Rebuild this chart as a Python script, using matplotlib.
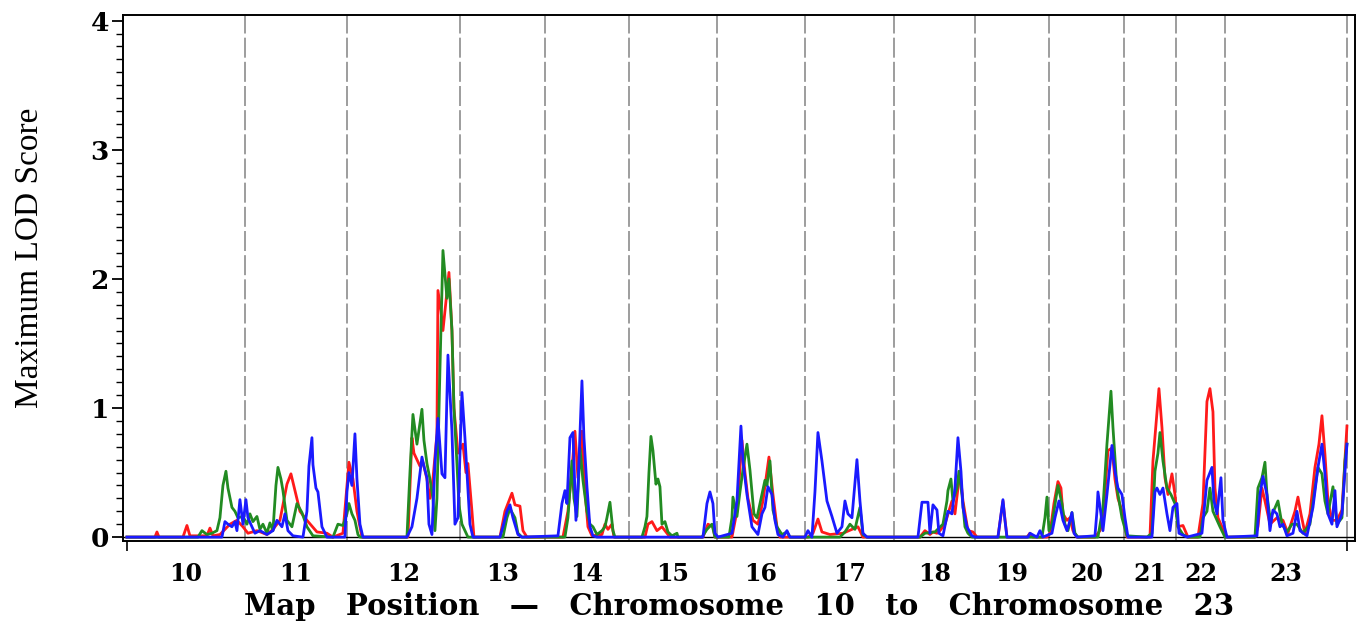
import matplotlib
matplotlib.use("Agg")
import matplotlib.pyplot as plt
import numpy as np

# chromosome labels and boundaries (map position, cM along the concatenated map)
chroms = ["10", "11", "12", "13", "14", "15", "16", "17", "18", "19", "20", "21", "22", "23"]
bounds = [0, 118, 220, 333, 418, 502, 590, 678, 767, 848, 922, 997, 1049, 1098, 1220]

# (position, max LOD)
red_pts = [
    (0, 0), (28, 0), (30, 0.04), (32, 0), (56, 0), (60, 0.09), (63, 0.01), (80, 0.01), (83, 0.07),
    (86, 0.01), (93, 0.02), (103, 0.1), (110, 0.13), (116, 0.08), (121, 0.03), (130, 0.05),
    (140, 0.02), (146, 0.06), (153, 0.13), (160, 0.41), (164, 0.49), (168, 0.36), (173, 0.2),
    (180, 0.13), (190, 0.04), (200, 0.03), (206, 0), (216, 0.03), (220, 0.4), (222, 0.58),
    (226, 0.45), (230, 0.2), (235, 0),
    (281, 0), (285, 0.77), (287, 0.65), (290, 0.6), (293, 0.55), (296, 0.58), (300, 0.45),
    (303, 0.3), (306, 0.45), (310, 0.8), (311, 1.91), (314, 1.75), (316, 1.6), (320, 1.9),
    (322, 2.05), (325, 1.6), (327, 1.0), (331, 0.65), (336, 0.72), (339, 0.5), (341, 0.57),
    (345, 0.2), (347, 0),
    (373, 0), (378, 0.2), (385, 0.34), (388, 0.25), (393, 0.24), (396, 0.05), (400, 0),
    (436, 0), (441, 0.2), (445, 0.52), (448, 0.82), (451, 0.46), (455, 0.82), (458, 0.36),
    (461, 0.08), (465, 0.01), (475, 0.02), (478, 0.1), (481, 0.06), (485, 0.1), (487, 0),
    (518, 0), (521, 0.1), (525, 0.12), (530, 0.05), (535, 0.08), (540, 0.03), (543, 0),
    (576, 0), (581, 0.1), (586, 0.08), (588, 0),
    (605, 0), (610, 0.2), (615, 0.75), (618, 0.5), (621, 0.3), (626, 0.13), (631, 0.1),
    (636, 0.28), (642, 0.62), (646, 0.33), (650, 0.08), (653, 0),
    (681, 0), (686, 0.03), (691, 0.14), (695, 0.04), (703, 0.02), (716, 0.03), (731, 0.08), (736, 0),
    (793, 0), (798, 0.05), (803, 0.02), (806, 0.04), (810, 0.03), (813, 0.05), (818, 0.1),
    (825, 0.28), (828, 0.18), (833, 0.51), (836, 0.28), (841, 0.05), (846, 0.04), (850, 0),
    (871, 0), (876, 0.28), (880, 0), (900, 0), (903, 0.03), (906, 0), (920, 0),
    (923, 0.03), (927, 0.26), (931, 0.43), (934, 0.38), (936, 0.18), (940, 0.13), (943, 0.15),
    (946, 0.05), (950, 0), (968, 0), (973, 0.05), (976, 0.13), (981, 0.67), (985, 0.69),
    (988, 0.45), (991, 0.3), (996, 0.18), (1000, 0),
    (1023, 0), (1026, 0.59), (1030, 0.97), (1032, 1.15), (1035, 0.85), (1038, 0.46), (1041, 0.33),
    (1045, 0.49), (1048, 0.33), (1051, 0.08), (1056, 0.09), (1061, 0),
    (1071, 0), (1076, 0.26), (1080, 1.05), (1083, 1.15), (1086, 0.97), (1088, 0.38), (1091, 0.15),
    (1095, 0.08), (1100, 0),
    (1128, 0), (1131, 0.08), (1135, 0.38), (1138, 0.28), (1143, 0.1), (1150, 0.15), (1156, 0.13),
    (1161, 0.03), (1168, 0.2), (1171, 0.31), (1174, 0.18), (1178, 0.03), (1183, 0.18),
    (1188, 0.54), (1192, 0.72), (1195, 0.94), (1198, 0.64), (1201, 0.28), (1205, 0.13),
    (1210, 0.13), (1215, 0.21), (1220, 0.86),
]

green_pts = [
    (0, 0), (71, 0), (75, 0.05), (80, 0.02), (85, 0.03), (90, 0.05), (93, 0.15), (96, 0.4),
    (99, 0.51), (101, 0.38), (105, 0.23), (108, 0.2), (111, 0.15), (116, 0.16), (120, 0.1),
    (123, 0.18), (126, 0.12), (130, 0.16), (133, 0.06), (136, 0.1), (140, 0.03), (143, 0.11),
    (146, 0.05), (149, 0.4), (151, 0.54), (154, 0.45), (156, 0.36), (160, 0.13), (165, 0.08),
    (170, 0.26), (175, 0.19), (180, 0.08), (186, 0.01), (206, 0), (211, 0.1), (216, 0.09),
    (220, 0.18), (222, 0.26), (225, 0.18), (228, 0.13), (231, 0.02), (233, 0),
    (280, 0), (283, 0.5), (286, 0.95), (290, 0.72), (295, 0.99), (297, 0.75), (300, 0.57),
    (303, 0.45), (306, 0.3), (308, 0.05), (310, 0.3), (313, 1.3), (316, 2.22), (320, 1.85),
    (322, 2.0), (325, 1.6), (327, 1.0), (330, 0.57), (332, 0.25), (335, 0.1), (338, 0.05), (341, 0),
    (376, 0), (380, 0.15), (383, 0.22), (388, 0.15), (391, 0.03), (395, 0),
    (438, 0), (441, 0.15), (445, 0.59), (447, 0.3), (450, 0.16), (453, 0.69), (456, 0.44),
    (460, 0.2), (463, 0.1), (466, 0.08), (470, 0.02), (475, 0.05), (478, 0.08), (480, 0.15),
    (483, 0.27), (486, 0.05), (488, 0),
    (515, 0), (518, 0.08), (520, 0.16), (522, 0.5), (524, 0.78), (526, 0.67), (529, 0.41),
    (531, 0.45), (533, 0.39), (535, 0.1), (538, 0.12), (541, 0.04), (545, 0.01), (550, 0.03), (551, 0),
    (575, 0), (580, 0.06), (585, 0.1), (588, 0),
    (602, 0), (605, 0.15), (606, 0.31), (610, 0.16), (613, 0.35), (616, 0.52), (620, 0.72),
    (623, 0.52), (627, 0.18), (630, 0.15), (633, 0.26), (638, 0.44), (640, 0.4), (643, 0.59),
    (646, 0.21), (650, 0.08), (655, 0.02), (660, 0.04), (663, 0),
    (713, 0), (718, 0.04), (723, 0.1), (728, 0.06), (733, 0.23), (736, 0.02), (740, 0),
    (793, 0), (798, 0.03), (808, 0.04), (816, 0.1), (820, 0.28), (821, 0.36), (824, 0.45),
    (826, 0.28), (830, 0.38), (832, 0.51), (835, 0.33), (838, 0.08), (841, 0.03), (845, 0),
    (915, 0), (918, 0.15), (920, 0.31), (922, 0.05), (925, 0.1), (928, 0.25), (931, 0.4),
    (935, 0.26), (938, 0.1), (941, 0.05), (945, 0.19), (948, 0.03), (951, 0),
    (971, 0), (976, 0.23), (980, 0.72), (984, 1.13), (986, 0.85), (990, 0.38), (995, 0.15),
    (1000, 0.01), (1020, 0),
    (1025, 0.03), (1028, 0.51), (1031, 0.65), (1033, 0.81), (1036, 0.59), (1040, 0.38),
    (1044, 0.33), (1048, 0.26), (1051, 0.08), (1056, 0.02), (1061, 0),
    (1073, 0), (1076, 0.15), (1080, 0.2), (1083, 0.38), (1086, 0.2), (1093, 0.08), (1098, 0),
    (1128, 0), (1131, 0.38), (1135, 0.46), (1138, 0.58), (1140, 0.33), (1143, 0.15), (1146, 0.19),
    (1151, 0.28), (1155, 0.1), (1160, 0.04), (1165, 0.1), (1170, 0.1), (1176, 0.03), (1183, 0.1),
    (1188, 0.38), (1191, 0.54), (1195, 0.49), (1198, 0.28), (1201, 0.18), (1206, 0.39),
    (1210, 0.1), (1215, 0.15), (1218, 0.59), (1220, 0.72),
]

blue_pts = [
    (0, 0), (95, 0), (98, 0.12), (101, 0.1), (105, 0.08), (108, 0.12), (110, 0.05), (113, 0.29),
    (116, 0.1), (119, 0.29), (121, 0.15), (125, 0.08), (128, 0.03), (133, 0.05), (140, 0.02),
    (146, 0.05), (150, 0.13), (155, 0.08), (158, 0.18), (161, 0.05), (166, 0.01), (176, 0),
    (180, 0.2), (182, 0.55), (185, 0.77), (186, 0.56), (189, 0.38), (191, 0.35), (195, 0.08),
    (200, 0), (218, 0), (220, 0.35), (222, 0.5), (225, 0.4), (228, 0.8), (230, 0.45), (233, 0.1), (236, 0),
    (280, 0), (285, 0.08), (290, 0.3), (295, 0.62), (297, 0.55), (300, 0.46), (302, 0.1),
    (305, 0.02), (308, 0.57), (311, 0.92), (315, 0.49), (318, 0.46), (321, 1.41), (325, 0.82),
    (328, 0.1), (331, 0.15), (335, 1.12), (338, 0.77), (343, 0.1), (346, 0),
    (373, 0), (376, 0.08), (380, 0.2), (383, 0.25), (386, 0.15), (391, 0.02), (395, 0),
    (431, 0.01), (435, 0.26), (438, 0.36), (440, 0.26), (443, 0.77), (446, 0.81), (449, 0.13),
    (451, 0.38), (455, 1.21), (457, 0.77), (460, 0.39), (463, 0.08), (466, 0.01), (470, 0),
    (576, 0), (580, 0.26), (583, 0.35), (586, 0.26), (588, 0.03), (591, 0),
    (605, 0.03), (610, 0.28), (614, 0.86), (616, 0.59), (620, 0.33), (625, 0.08), (631, 0.02),
    (635, 0.18), (638, 0.23), (641, 0.39), (645, 0.33), (648, 0.13), (651, 0.02), (656, 0),
    (660, 0.05), (663, 0),
    (678, 0), (681, 0.05), (685, 0), (688, 0.35), (691, 0.81), (695, 0.59), (700, 0.28),
    (705, 0.16), (710, 0.03), (715, 0.08), (718, 0.28), (721, 0.18), (725, 0.15), (730, 0.6),
    (733, 0.28), (736, 0.03), (740, 0),
    (791, 0), (795, 0.27), (801, 0.27), (803, 0.03), (806, 0.25), (810, 0.21), (812, 0.03),
    (816, 0.01), (821, 0.2), (825, 0.18), (828, 0.38), (831, 0.77), (834, 0.51), (836, 0.23),
    (840, 0.08), (845, 0.01), (848, 0),
    (871, 0), (876, 0.29), (878, 0.13), (880, 0), (901, 0), (903, 0.03), (910, 0), (913, 0.05), (916, 0),
    (925, 0.03), (928, 0.15), (932, 0.28), (936, 0.13), (940, 0.05), (942, 0.1), (945, 0.19),
    (947, 0.03), (950, 0), (968, 0.01), (970, 0.2), (971, 0.35), (974, 0.18), (976, 0.05),
    (980, 0.33), (985, 0.71), (988, 0.51), (991, 0.38), (995, 0.33), (998, 0.15), (1001, 0),
    (1025, 0), (1028, 0.35), (1030, 0.38), (1033, 0.33), (1036, 0.38), (1040, 0.18), (1043, 0.05),
    (1046, 0.23), (1050, 0.26), (1052, 0.03), (1060, 0),
    (1075, 0.03), (1080, 0.44), (1085, 0.54), (1087, 0.28), (1090, 0.18), (1094, 0.46),
    (1096, 0.13), (1100, 0),
    (1130, 0.01), (1133, 0.33), (1136, 0.47), (1140, 0.33), (1143, 0.05), (1146, 0.21),
    (1150, 0.18), (1153, 0.08), (1156, 0.1), (1160, 0.01), (1166, 0.03), (1170, 0.2), (1173, 0.05),
    (1180, 0.01), (1186, 0.23), (1191, 0.54), (1195, 0.72), (1198, 0.49), (1201, 0.18),
    (1205, 0.1), (1208, 0.36), (1210, 0.08), (1215, 0.18), (1220, 0.72),
]

serif = ["DejaVu Serif"]

fig = plt.figure(figsize=(13.63, 6.30), dpi=100)
ax = fig.add_axes([0.0902, 0.1413, 0.9039, 0.8349])

for x in bounds[1:]:
    ax.axvline(x, color="#8c8c8c", lw=1.2, ls=(0, (12, 2.5)), zorder=1)
ax.axhline(0, color="black", lw=1.0, zorder=2)

for pts, col in [(red_pts, "#ff1a1a"), (green_pts, "#228b22"), (blue_pts, "#1a1aff")]:
    xs, ys = zip(*pts)
    ax.plot(xs, ys, color=col, lw=2.0, zorder=3)

ax.set_xlim(-4, 1228)
ax.set_ylim(-0.03, 4.044)

mids = [(bounds[i] + bounds[i + 1]) / 2 for i in range(len(chroms))]
ax.set_xticks([bounds[0], bounds[-1]])
ax.set_xticklabels([])
ax.set_xticks(mids, minor=True)
ax.set_xticklabels(chroms, minor=True, fontsize=17, fontweight="bold", family=serif)
ax.tick_params(axis="x", which="major", direction="out", length=7, width=1.2)
ax.tick_params(axis="x", which="minor", length=0, pad=15)

ax.set_yticks([0, 1, 2, 3, 4])
ax.set_yticklabels(["0", "1", "2", "3", "4"], fontsize=19, fontweight="bold", family=serif)
ax.set_yticks(np.arange(0, 4.01, 0.1), minor=True)
ax.tick_params(axis="y", which="major", direction="out", length=8, width=1.3, pad=2)
ax.tick_params(axis="y", which="minor", direction="out", length=5, width=1.0)

for s in ax.spines.values():
    s.set_linewidth(1.4)

fig.text(0.022, 1 - 258 / 630, "Maximum LOD Score", rotation=90, ha="center", va="center",
         fontsize=24, family=["Liberation Serif"])
fig.text(0.542, 1 - 615 / 630, "Map   Position   \u2014   Chromosome   10   to   Chromosome   23",
         ha="center", va="baseline", fontsize=21, fontweight="bold", family=serif)

fig.savefig("out.png", dpi=100)
